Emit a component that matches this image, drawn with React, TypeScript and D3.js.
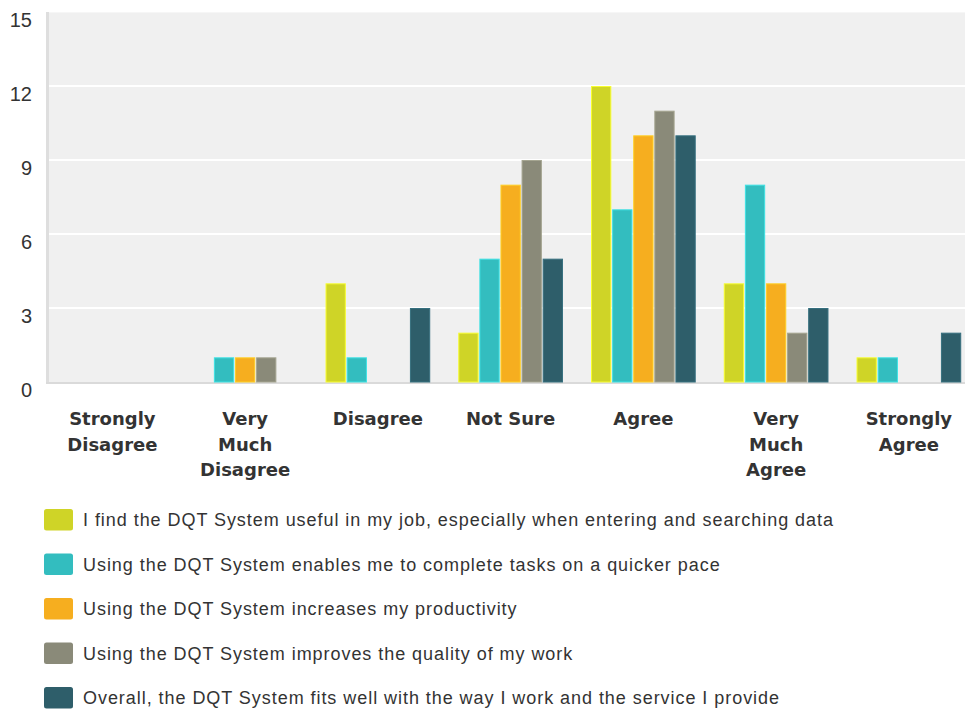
import React from "react";
import * as d3 from "d3";

const categories = [
  ["Strongly", "Disagree"],
  ["Very", "Much", "Disagree"],
  ["Disagree"],
  ["Not Sure"],
  ["Agree"],
  ["Very", "Much", "Agree"],
  ["Strongly", "Agree"],
];
const categoryKeys = ["SD", "VMD", "D", "NS", "A", "VMA", "SA"];

const seriesNames = [
  "I find the DQT System useful in my job, especially when entering and searching data",
  "Using the DQT System enables me to complete tasks on a quicker pace",
  "Using the DQT System increases my productivity",
  "Using the DQT System improves the quality of my work",
  "Overall, the DQT System fits well with the way I work and the service I provide",
];
const seriesColors = ["#cfd427", "#33bdbf", "#f6ae1f", "#8a8a79", "#2e5e6a"];

const useful = [0, 0, 4, 2, 12, 4, 1];
const quicker = [0, 1, 1, 5, 7, 8, 1];
const productivity = [0, 1, 0, 8, 10, 4, 0];
const quality = [0, 1, 0, 9, 11, 2, 0];
const fitsWell = [0, 0, 3, 5, 10, 3, 2];
const seriesValues = [useful, quicker, productivity, quality, fitsWell];

const yTicks = [0, 3, 6, 9, 12, 15];

export default function App() {
  const W = 965;
  const H = 710;
  const left = 46;
  const top = 12;
  const bottom = 382;
  const step = 132.75;
  const x0 = d3
    .scaleBand<string>()
    .domain(categoryKeys)
    .range([left, left + step * categoryKeys.length])
    .padding(0);
  const x1 = d3
    .scaleBand<number>()
    .domain(d3.range(seriesNames.length))
    .range([0, x0.bandwidth()])
    .paddingInner(0.038)
    .paddingOuter(0.665);
  const y = d3.scaleLinear().domain([0, 15]).range([bottom, top]);

  const textColor = "#333333";

  return (
    <svg
      width={W}
      height={H}
      style={{ position: "absolute", left: 0, top: 0, background: "#ffffff" }}
    >
      <rect x={left + 2} y={top} width={W - left} height={bottom - top} fill="#f0f0f0" />
      <line x1={left + 2} x2={W} y1={top + 0.5} y2={top + 0.5} stroke="#f6f6f6" strokeWidth={1} />
      {yTicks
        .filter((t) => t > 0 && t < 15)
        .map((t) => (
          <line key={t} x1={left + 2} x2={W} y1={y(t)} y2={y(t)} stroke="#ffffff" strokeWidth={2} />
        ))}
      <rect x={left} y={top} width={3} height={bottom - top + 2} fill="#dedede" />
      <rect x={left} y={bottom} width={W - left} height={2} fill="#dadada" />
      {yTicks.map((t) => (
        <text
          key={t}
          x={32}
          y={y(t) + 15}
          textAnchor="end"
          fontFamily="'Liberation Sans', Arial, sans-serif"
          fontSize={20}
          fill={textColor}
        >
          {t}
        </text>
      ))}
      {categoryKeys.map((c, ci) => (
        <g key={c} transform={`translate(${x0(c)},0)`}>
          {seriesValues.map((vals, si) =>
            vals[ci] > 0 ? (
              <rect
                key={si}
                x={(x1(si) as number) + 0.5}
                y={y(vals[ci]) + 0.5}
                width={x1.bandwidth() - 1}
                height={bottom - y(vals[ci]) - 0.5}
                fill={seriesColors[si]}
                stroke={d3.color(seriesColors[si])!.brighter(0.5).formatHex()}
                strokeWidth={1}
              />
            ) : null
          )}
        </g>
      ))}
      {categoryKeys.map((c, ci) => (
        <text
          key={c}
          x={(x0(c) as number) + x0.bandwidth() / 2}
          y={425}
          textAnchor="middle"
          fontFamily="'DejaVu Sans', Verdana, sans-serif"
          fontWeight="bold"
          fontSize={18}
          fill={textColor}
        >
          {categories[ci].map((line, li) => (
            <tspan key={li} x={(x0(c) as number) + x0.bandwidth() / 2} dy={li === 0 ? 0 : 25.5}>
              {line}
            </tspan>
          ))}
        </text>
      ))}
      {seriesNames.map((name, si) => (
        <g key={si} transform={`translate(44,${509 + si * 44.5})`}>
          <rect width={29} height={21.5} rx={2.5} fill={seriesColors[si]} />
          <text
            x={39}
            y={17}
            fontFamily="'Liberation Sans', Arial, sans-serif"
            fontSize={18}
            letterSpacing={0.95}
            fill={textColor}
          >
            {name}
          </text>
        </g>
      ))}
    </svg>
  );
}
